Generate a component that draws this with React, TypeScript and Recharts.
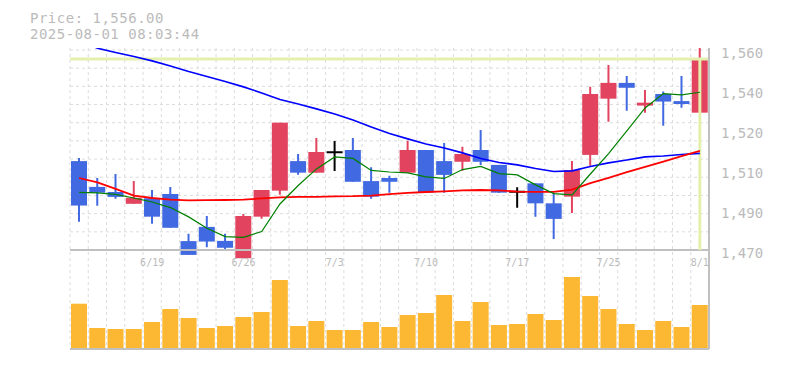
import { ComposedChart, Bar, Line, XAxis, YAxis, CartesianGrid, ReferenceLine } from 'recharts';

const dates = [
  '6/13', '6/16', '6/17', '6/18', '6/19', '6/20', '6/23', '6/24', '6/25', '6/26',
  '6/27', '6/30', '7/1', '7/2', '7/3', '7/4', '7/7', '7/8', '7/9', '7/10',
  '7/11', '7/14', '7/15', '7/16', '7/17', '7/18', '7/22', '7/23', '7/24', '7/25',
  '7/28', '7/29', '7/30', '7/31', '8/1',
];
const opens = [
  1510, 1498.4, 1496.1, 1490.8, 1493.3, 1495.2, 1474, 1480.4, 1474.1, 1466.3,
  1485, 1496.7, 1510, 1504.8, 1514, 1515, 1501, 1502.4, 1504.8, 1515,
  1510, 1509.7, 1515, 1508.3, 1496.2, 1500, 1491, 1494, 1512.8, 1538.1,
  1545.2, 1535, 1540.2, 1537, 1531.8,
];
const highs = [
  1511.4, 1502.4, 1504.2, 1501, 1497, 1498.4, 1477.3, 1485.3, 1477.3, 1486.2,
  1497, 1527.3, 1513.2, 1520.4, 1519, 1520.4, 1507.2, 1503.4, 1519.2, 1515,
  1518.2, 1516.5, 1524, 1508.3, 1498.2, 1500, 1495.8, 1510, 1543.5, 1553.3,
  1548.3, 1542, 1541.3, 1548.3, 1561,
];
const lows = [
  1482.7, 1489.9, 1493.1, 1490.8, 1481.8, 1480, 1467.8, 1471.2, 1469.7, 1466.3,
  1484.1, 1494.9, 1503.9, 1504.8, 1505.5, 1500.7, 1493.1, 1495.8, 1504.8, 1495.8,
  1495.8, 1505.7, 1508.3, 1495.8, 1489, 1485, 1475, 1486.7, 1507.9, 1527.7,
  1532.7, 1531.8, 1525.9, 1534, 1531.8,
];
const closes = [
  1490, 1495.8, 1493.9, 1493.5, 1485, 1480, 1467.8, 1473.8, 1471, 1485.3,
  1497, 1527.3, 1504.8, 1514.1, 1514, 1500.7, 1494, 1500.7, 1515, 1495.8,
  1503.8, 1513.2, 1509.7, 1495.8, 1496.2, 1491, 1484, 1506, 1540.2, 1545.2,
  1543, 1536.3, 1536.8, 1535.7, 1556,
];
const volumes = [
  453, 210, 200, 200, 270, 400, 310, 210, 230, 320,
  370, 690, 230, 280, 190, 190, 270, 220, 340, 360,
  540, 280, 470, 240, 250, 350, 290, 720, 530, 400,
  250, 190, 280, 220, 440,
];
const ma5 = [
  1495.9, 1495.7, 1495, 1493.4, 1491.6, 1489.1, 1484.9, 1479.8, 1476, 1475.7,
  1478.3, 1490.7, 1499, 1506.5, 1511.9, 1511.2, 1505.8, 1505.1, 1504.7, 1502.9,
  1502.2, 1506.2, 1507.6, 1504.4, 1503.8, 1499.3, 1495.4, 1494.8, 1504.2, 1513.4,
  1523.6, 1533.9, 1540.4, 1539.8, 1541,
];
const ma25 = [
  1502.4, 1500.4, 1497.5, 1494.5, 1493.4, 1492.7, 1492.3, 1492.4, 1492.5, 1492.7,
  1493.2, 1493.7, 1493.9, 1493.9, 1494.1, 1494.2, 1494.5, 1495.1, 1495.7, 1496.1,
  1496.4, 1496.8, 1497, 1496.8, 1496.3, 1496.2, 1496.2, 1497.2, 1500.1, 1502.5,
  1505, 1507.4, 1509.8, 1512.2, 1514.6,
];
const ma75 = [
  1564.5, 1560.8, 1558.9, 1557.1, 1555.1, 1552.8, 1550.3, 1548.1, 1545.8, 1543.4,
  1540.7, 1537.7, 1535.7, 1533.5, 1531.2, 1528.5, 1525.4, 1522.4, 1520, 1517.7,
  1515.9, 1513.7, 1511.2, 1509.4, 1508.3, 1506.7, 1505.3, 1505.6, 1507.6, 1509.2,
  1510.5, 1511.9, 1512.3, 1513, 1513.5,
];
const dateTicks = ['6/19', '6/26', '7/3', '7/10', '7/17', '7/25', '8/1'];
const priceTicks = [1470, 1488, 1506, 1524, 1542, 1560];
const lastPrice = 1556;
const lastDate = '8/1';
const priceBase = 1470;
const priceLabel = 'Price: 1,556.00';
const timeLabel = '2025-08-01 08:03:44';

const data = dates.map((date, i) => ({
  date,
  open: opens[i],
  high: highs[i],
  low: lows[i],
  close: closes[i],
  volume: volumes[i],
  ma5: ma5[i],
  ma25: ma25[i],
  ma75: ma75[i],
}));

const W = 785;
const H = 370;
const PRICE_DOMAIN: [number, number] = [1425.45, 1560.9];
const VOL_DOMAIN: [number, number] = [0, 3010];
const UP = '#e2435f';
const DOWN = '#4169e1';
const TEXT = '#bbbbbb';
const MONO = '"DejaVu Sans Mono", monospace';

const fmtPrice = (v: number) => (Math.round(v / 10) * 10).toLocaleString('en-US');

function Candle(props: any) {
  const { x, y, width, height, payload } = props;
  const { open, close, high, low } = payload;
  const span = high - low || 1;
  const py = (v: number) => y + ((high - v) / span) * height;
  const cx = x + width / 2;
  if (open === close) {
    return (
      <g>
        <line x1={cx} x2={cx} y1={py(high)} y2={py(low)} stroke="#000" strokeWidth={2} />
        <line x1={x} x2={x + width} y1={py(open)} y2={py(open)} stroke="#000" strokeWidth={2} />
      </g>
    );
  }
  const color = close > open ? UP : DOWN;
  const top = py(Math.max(open, close));
  const bottom = py(Math.min(open, close));
  return (
    <g>
      <line x1={cx} x2={cx} y1={y} y2={y + height} stroke={color} strokeWidth={2} />
      <rect x={x} y={top} width={width} height={Math.max(bottom - top, 1)} fill={color} />
    </g>
  );
}

function PriceTick({ x, y, payload }: any) {
  return (
    <text x={x} y={y + 8} fill={TEXT} fontSize={14} fontFamily={MONO} textAnchor="start">
      {fmtPrice(payload.value)}
    </text>
  );
}

function DateTick({ x, y, payload }: any) {
  return (
    <text x={x} y={y - 83} fill={TEXT} fontSize={10} fontFamily={MONO} textAnchor="middle">
      {payload.value}
    </text>
  );
}

// grid: 11 horizontal steps over the price panel, one vertical line per candle boundary
const hGrid = ({ offset }: any) => {
  const [lo, hi] = PRICE_DOMAIN;
  const out: number[] = [];
  for (let k = 0; k <= 11; k++) {
    const v = priceBase + (k * (priceTicks[priceTicks.length - 1] - priceBase)) / 11;
    out.push(offset.top + ((hi - v) / (hi - lo)) * offset.height);
  }
  return out;
};
const vGrid = ({ offset }: any) => dates.map((_, i) => offset.left + (i * offset.width) / dates.length);

export default function App() {
  return (
    <div style={{ position: 'fixed', left: 0, top: 0, width: W, height: H, background: '#fff' }}>
      <ComposedChart width={W} height={H} data={data} margin={{ top: 48, right: 0, left: 70, bottom: 0 }}>
        <CartesianGrid
          xAxisId="main"
          yAxisId="price"
          stroke="#dcdcdc"
          strokeDasharray="3 3"
          horizontalCoordinatesGenerator={hGrid}
          verticalCoordinatesGenerator={vGrid}
        />
        <XAxis
          xAxisId="main"
          dataKey="date"
          ticks={dateTicks}
          interval={0}
          height={21}
          tickSize={0}
          tickMargin={0}
          tickLine={false}
          axisLine={{ stroke: '#c0c0c0', strokeWidth: 2 }}
          tick={<DateTick />}
        />
        <XAxis xAxisId="vol" dataKey="date" hide />
        <YAxis
          yAxisId="price"
          orientation="right"
          width={76}
          domain={PRICE_DOMAIN}
          allowDataOverflow
          ticks={priceTicks}
          interval={0}
          tickSize={0}
          tickMargin={12}
          tickLine={false}
          axisLine={{ stroke: '#c0c0c0', strokeWidth: 2 }}
          tick={<PriceTick />}
        />
        <YAxis yAxisId="vol" domain={VOL_DOMAIN} allowDataOverflow hide />
        <ReferenceLine xAxisId="main" yAxisId="price" y={priceBase} stroke="#c0c0c0" strokeWidth={2} />
        <ReferenceLine xAxisId="main" yAxisId="price" y={lastPrice} stroke="#e4f0ad" strokeWidth={3} />
        <ReferenceLine
          xAxisId="main"
          yAxisId="price"
          segment={[{ x: lastDate, y: lastPrice }, { x: lastDate, y: priceBase }]}
          stroke="#e4f0ad"
          strokeWidth={3}
        />
        <Bar xAxisId="vol" yAxisId="vol" dataKey="volume" fill="#fdb833" barSize={16} isAnimationActive={false} />
        <Line xAxisId="main" yAxisId="price" dataKey="ma75" stroke="#0000ff" strokeWidth={1.6} dot={false} isAnimationActive={false} />
        <Line xAxisId="main" yAxisId="price" dataKey="ma25" stroke="#ff0000" strokeWidth={1.8} dot={false} isAnimationActive={false} />
        <Line xAxisId="main" yAxisId="price" dataKey="ma5" stroke="#008000" strokeWidth={1.2} dot={false} isAnimationActive={false} />
        <Bar
          xAxisId="main"
          yAxisId="price"
          dataKey={(d: any) => [d.low, d.high]}
          barSize={16}
          shape={<Candle />}
          isAnimationActive={false}
        />
      </ComposedChart>
      <svg width={W} height={50} style={{ position: 'absolute', left: 0, top: 0, pointerEvents: 'none' }}>
        <text x={30} y={22.5} fill={TEXT} fontSize={14} letterSpacing={0.5} fontFamily={MONO}>{priceLabel}</text>
        <text x={30} y={39} fill={TEXT} fontSize={14} letterSpacing={0.5} fontFamily={MONO}>{timeLabel}</text>
      </svg>
    </div>
  );
}
